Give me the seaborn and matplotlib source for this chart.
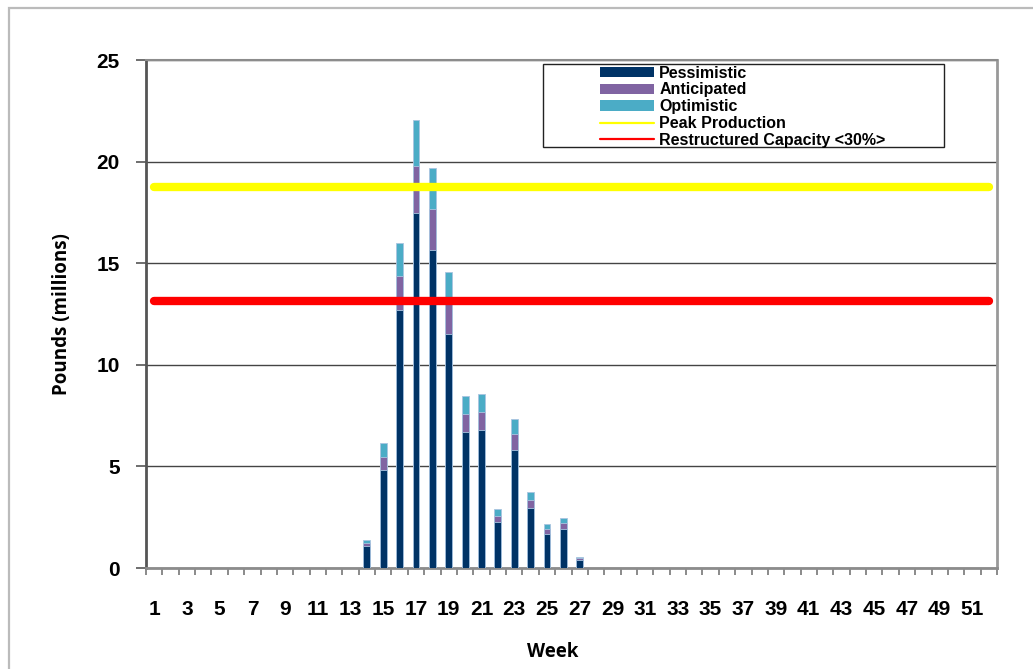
import numpy as np
import pandas as pd
import matplotlib
matplotlib.use("Agg")
import matplotlib.pyplot as plt
from matplotlib.patches import Patch, Rectangle
from matplotlib.lines import Line2D
from matplotlib.font_manager import FontProperties
import seaborn as sns

# ---------------- data ----------------
weeks = list(range(1, 53))
active_weeks = list(range(14, 28))
# cumulative scenario totals (millions of pounds) per active week
pessimistic_active = [1.08, 4.83, 12.71, 17.48, 15.63, 11.51, 6.70, 6.78, 2.28, 5.82, 2.97, 1.69, 1.93, 0.41]
anticipated_active = [1.24, 5.47, 14.35, 19.77, 17.67, 13.10, 7.58, 7.68, 2.57, 6.60, 3.37, 1.92, 2.21, 0.47]
optimistic_active = [1.38, 6.13, 16.00, 22.05, 19.70, 14.55, 8.45, 8.55, 2.90, 7.35, 3.73, 2.16, 2.47, 0.54]
peak_production = 18.75
restructured_capacity = 13.15

series_names = ["Pessimistic", "Anticipated", "Optimistic",
                "Peak Production", "Restructured Capacity <30%>"]
y_ticks = [0, 5, 10, 15, 20, 25]
x_tick_labels = [str(w) for w in weeks[::2]]

# ---------------- frame ----------------
def full(active):
    d = dict(zip(active_weeks, active))
    return [d.get(w, 0.0) for w in weeks]

df = pd.DataFrame({
    "week": weeks,
    "Pessimistic": full(pessimistic_active),
    "Anticipated": full(anticipated_active),
    "Optimistic": full(optimistic_active),
})
df["pos"] = np.arange(len(weeks))
df["peak"] = peak_production
df["cap"] = restructured_capacity

navy = "#003366"
purple = "#8064A2"
aqua = "#4BACC6"
yellow = "#FFFF00"
red = "#FF0000"

sns.set_style("white")
plt.rcParams["font.family"] = ["Liberation Sans", "DejaVu Sans"]
plt.rcParams["text.color"] = "black"
plt.rcParams["xtick.color"] = "black"
plt.rcParams["ytick.color"] = "black"

W, H = 1033, 669
fig = plt.figure(figsize=(W / 100, H / 100), dpi=100)
ax = fig.add_axes([146 / W, 1 - 568 / H, (997 - 146) / W, (568 - 60) / H])

# outer chart-area border (extends past right/bottom edges)
fig.patches.append(Rectangle((9 / W, -0.05), 1.1, 1 - 8 / H + 0.05,
                             transform=fig.transFigure, fill=False,
                             edgecolor="#BBBBBB", linewidth=1.6, zorder=0))

bar_w = 0.42
edge = "#A9C4E0"
for col, c in [("Optimistic", aqua), ("Anticipated", purple), ("Pessimistic", navy)]:
    sns.barplot(data=df, x="week", y=col, order=weeks, color=c, saturation=1,
                width=bar_w, edgecolor=edge, linewidth=0.6, ax=ax, zorder=3)

sns.lineplot(data=df, x="pos", y="peak", color=yellow, linewidth=6,
             solid_capstyle="round", ax=ax, zorder=4)
sns.lineplot(data=df, x="pos", y="cap", color=red, linewidth=6,
             solid_capstyle="round", ax=ax, zorder=4)

ax.set_xlim(-0.5, len(weeks) - 0.5)
ax.set_ylim(0, 25)

ax.set_yticks(y_ticks)
ax.set_xticks(np.arange(0, len(weeks), 2))
ax.set_xticklabels(x_tick_labels)
ax.set_xticks(np.arange(-0.5, len(weeks), 1), minor=True)

tick_fp = FontProperties(family=["Liberation Sans", "DejaVu Sans"], weight="bold", size=15)
for lab in ax.get_xticklabels() + ax.get_yticklabels():
    lab.set_fontproperties(tick_fp)
    lab.set_color("black")

ax.tick_params(axis="x", which="major", bottom=True, length=0, pad=23)
ax.tick_params(axis="x", which="minor", bottom=True, length=5, width=1.2,
               color="#777777", direction="out")
ax.tick_params(axis="y", which="major", left=True, length=7, width=1.2,
               color="#555555", direction="out", pad=12)

ax.yaxis.grid(True, color="#444444", linewidth=1.0)
ax.xaxis.grid(False)
ax.set_axisbelow(True)

ax.spines["left"].set_color("#555555")
ax.spines["left"].set_linewidth(2)
ax.spines["bottom"].set_color("#8C8C8C")
ax.spines["bottom"].set_linewidth(2)
ax.spines["right"].set_color("#999999")
ax.spines["right"].set_linewidth(2)
ax.spines["top"].set_color("#8C8C8C")
ax.spines["top"].set_linewidth(1.5)

title_font = dict(family=["Open Sans", "DejaVu Sans"], weight="bold", size=13.5, color="black")
ax.set_xlabel("")
ax.set_ylabel("")
fig.text(553 / W, 1 - 652 / H, "Week", ha="center", va="center", **title_font)
fig.text(62 / W, 1 - 314 / H, "Pounds (millions)", ha="center", va="center",
         rotation=90, **title_font)

# legend
handles = [Patch(facecolor=navy, edgecolor="none"),
           Patch(facecolor=purple, edgecolor="none"),
           Patch(facecolor=aqua, edgecolor="none"),
           Line2D([0], [0], color=yellow, linewidth=1.6),
           Line2D([0], [0], color=red, linewidth=1.6)]
fig.patches.append(Rectangle((543 / W, 1 - 147 / H), (944 - 543) / W, (147 - 64) / H,
                             transform=fig.transFigure, fill=True, facecolor="white",
                             edgecolor="#222222", linewidth=1.0, zorder=5))
leg = fig.legend(handles, series_names, loc="upper left",
                 bbox_to_anchor=(600 / W, 1 - 65.5 / H), frameon=False,
                 borderpad=0, borderaxespad=0, handlelength=3.4, handleheight=0.6,
                 handletextpad=0.3, labelspacing=0.115,
                 prop=FontProperties(family=["Liberation Sans", "DejaVu Sans"],
                                     weight="bold", size=11.5))
for t in leg.get_texts():
    t.set_color("black")
leg.set_zorder(6)

fig.savefig("out.png", dpi=100)
